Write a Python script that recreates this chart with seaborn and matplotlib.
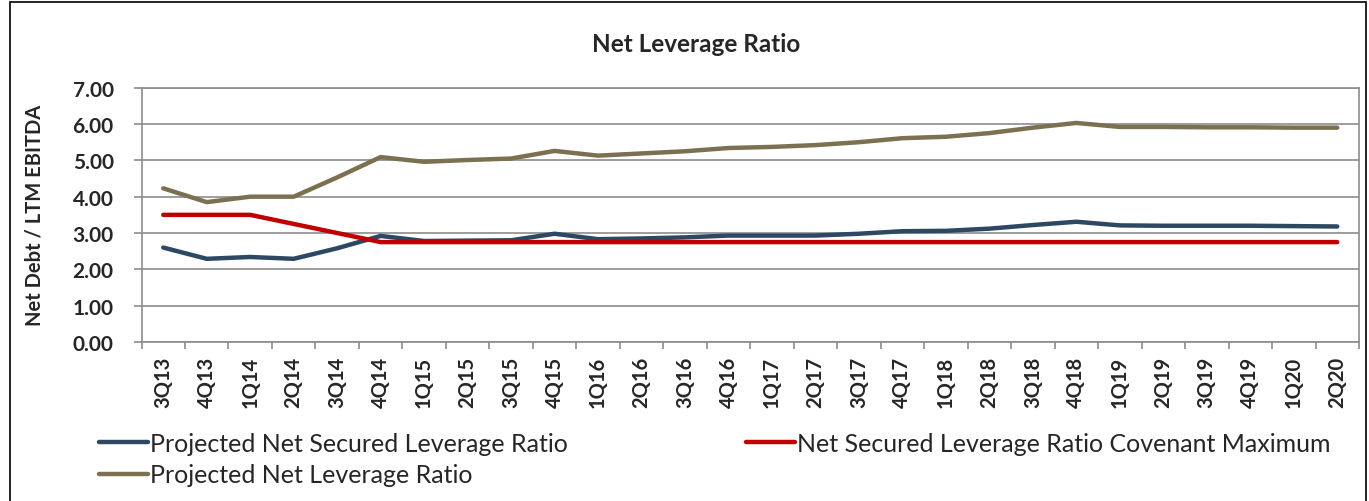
import matplotlib
matplotlib.use("Agg")
import matplotlib.pyplot as plt
import seaborn as sns
import pandas as pd
from matplotlib.patches import Rectangle
from matplotlib.lines import Line2D

quarters = ["3Q13", "4Q13", "1Q14", "2Q14", "3Q14", "4Q14", "1Q15", "2Q15", "3Q15", "4Q15",
            "1Q16", "2Q16", "3Q16", "4Q16", "1Q17", "2Q17", "3Q17", "4Q17", "1Q18", "2Q18",
            "3Q18", "4Q18", "1Q19", "2Q19", "3Q19", "4Q19", "1Q20", "2Q20"]
net_secured = [2.60, 2.29, 2.34, 2.29, 2.58, 2.92, 2.78, 2.79, 2.80, 2.98,
               2.83, 2.85, 2.88, 2.93, 2.93, 2.93, 2.98, 3.05, 3.06, 3.12,
               3.22, 3.31, 3.21, 3.20, 3.20, 3.20, 3.19, 3.18]
covenant_max = [3.50, 3.50, 3.50, 3.25, 3.00, 2.75, 2.75, 2.75, 2.75, 2.75,
                2.75, 2.75, 2.75, 2.75, 2.75, 2.75, 2.75, 2.75, 2.75, 2.75,
                2.75, 2.75, 2.75, 2.75, 2.75, 2.75, 2.75, 2.75]
net_leverage = [4.23, 3.85, 4.00, 4.00, 4.53, 5.09, 4.96, 5.01, 5.05, 5.26,
                5.13, 5.19, 5.25, 5.34, 5.37, 5.42, 5.50, 5.61, 5.65, 5.75,
                5.90, 6.03, 5.92, 5.92, 5.91, 5.91, 5.90, 5.90]

names = ["Projected Net Secured Leverage Ratio",
         "Net Secured Leverage Ratio Covenant Maximum",
         "Projected Net Leverage Ratio"]
colors = {names[0]: "#2C4862", names[1]: "#C00000", names[2]: "#7B7050"}

df = pd.concat([
    pd.DataFrame({"Quarter": quarters, "Value": vals, "Series": nm})
    for nm, vals in zip(names, [net_secured, covenant_max, net_leverage])
])

sns.set_theme(style="white")
plt.rcParams["font.family"] = ["Lato", "DejaVu Sans"]

fig = plt.figure(figsize=(13.69, 5.02), dpi=100)
ax = fig.add_axes([141.5 / 1369, 1 - 343 / 502, (1359 - 141.5) / 1369, (343 - 88.7) / 502])

sns.lineplot(data=df, x="Quarter", y="Value", hue="Series", palette=colors,
             hue_order=names, linewidth=3.2, ax=ax, sort=False, legend=False)
for ln in ax.lines:
    ln.set_solid_capstyle("round")

ax.set_xlim(-0.5, len(quarters) - 0.5)
ax.set_ylim(0, 7)
ax.set_yticks([i for i in range(8)])
ax.set_yticklabels([f"{i:.2f}" for i in range(8)], fontsize=15, fontweight="bold")
ax.set_xticks(range(len(quarters)))
ax.set_xticklabels(quarters, rotation=90, fontsize=14.5, fontweight="bold")
ax.set_xticks([i - 0.5 for i in range(len(quarters) + 1)], minor=True)
ax.tick_params(axis="x", which="major", length=0, pad=10)
ax.tick_params(axis="x", which="minor", length=5, color="#8C8C8C", width=1.2, bottom=True)
ax.tick_params(axis="y", length=6, color="#8C8C8C", width=1.2, left=True, pad=14)
ax.grid(axis="y", color="#8C8C8C", linewidth=1.2)
ax.grid(axis="x", visible=False)
for s in ax.spines.values():
    s.set_visible(True)
    s.set_color("#8C8C8C")
    s.set_linewidth(1.2)
ax.set_xlabel("")
ax.set_ylabel("Net Debt / LTM EBITDA", fontsize=14.5, fontweight="bold", labelpad=20)
ax.set_axisbelow(True)

fig.text(696 / 1369, 1 - 45 / 502, "Net Leverage Ratio", ha="center", va="center",
         fontsize=17.5, fontweight="bold")

h = [Line2D([], [], color=colors[n], linewidth=3.2, solid_capstyle="round") for n in names]
order = [0, 2, 1]
leg = fig.legend([h[i] for i in order], [names[i] for i in order], ncol=2,
                 loc="upper left", bbox_to_anchor=(99 / 1369, 1 - 433 / 502),
                 frameon=False, fontsize=18, handlelength=1.95, handletextpad=0.08,
                 columnspacing=7.15, labelspacing=0.33, borderaxespad=0, borderpad=0)

fig.add_artist(Rectangle((9.5 / 1369, -0.01), (1366 - 9.5) / 1369, 1 - 2.5 / 502 + 0.01,
                         transform=fig.transFigure, fill=False, edgecolor="black",
                         linewidth=1.2))

fig.savefig("out.png", dpi=100)
